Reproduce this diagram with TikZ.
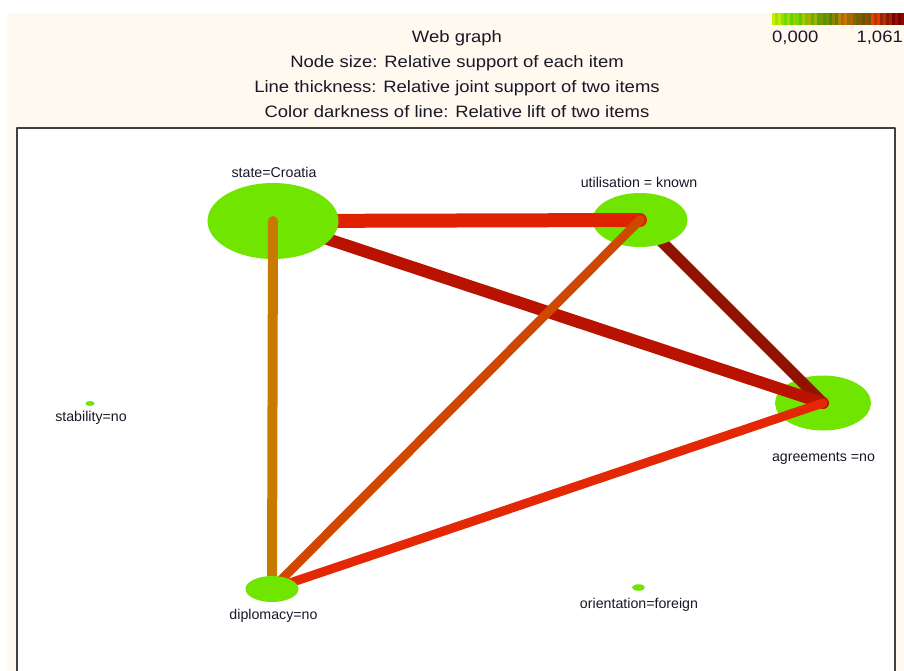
\documentclass[tikz,border=0pt]{standalone}
\usepackage{fontspec}
\setmainfont{Liberation Sans}
\newfontfamily\headfont[FakeStretch=1.12]{Liberation Sans}
\usepackage{tikz}
\usetikzlibrary{shapes.geometric}

\definecolor{cream}{RGB}{255,249,240}
\definecolor{ink}{RGB}{24,24,40}
\definecolor{boxgray}{RGB}{64,64,64}
\definecolor{itemgreen}{RGB}{112,230,0}
\definecolor{cRed}{RGB}{222,34,0}
\definecolor{cDark}{RGB}{186,18,0}
\definecolor{cMaroon}{RGB}{145,18,0}
\definecolor{cOchre}{RGB}{200,122,0}
\definecolor{cRust}{RGB}{208,72,0}
\definecolor{cScarlet}{RGB}{228,40,6}

\begin{document}
\begin{tikzpicture}[line cap=round,line join=round,x=1pt,y=-1pt,
    item/.style={ellipse,fill=itemgreen,inner sep=0pt,outer sep=0pt},
    lbl/.style={anchor=base,text=ink,inner sep=0pt,font=\fontsize{14.2}{17}\selectfont},
    head/.style={anchor=base,text=ink,inner sep=0pt,font=\headfont\fontsize{16.5}{20}\selectfont}]
\useasboundingbox (0,0) rectangle (904,671);
\fill [white] (0,0) rectangle (904,671);
\fill [cream] (7,13) rectangle (904,671);
\foreach \r/\g/\b [count=\k from 0] in {200/240/0,150/230/0,190/235/0,140/225/0,
    110/220/0,170/215/0,100/210/0,160/200/0,120/215/0,90/200/0,
    170/200/0,130/190/0,160/180/0,110/170/0,150/185/0,100/160/0,
    120/150/0,80/150/0,130/140/0,70/140/0,150/130/0,90/130/0,
    190/130/0,170/110/0,200/120/0,150/110/0,180/100/0,130/100/0,
    110/100/0,150/80/0,100/90/0,160/70/0,120/80/0,
    230/70/0,190/50/0,220/60/0,150/40/0,200/40/0,130/30/0,170/30/0,
    120/0/0,160/10/0,110/0/0,150/0/0}
  \fill [fill={rgb,255:red,\r;green,\g;blue,\b}] (772+3*\k,13) rectangle (775+3*\k,25);
\node [head,anchor=base west] (scalelo) at (772,43) {0,000};
\node [head,anchor=base east] (scalehi) at (903,43) {1,061};
\node [head] (title) at (457,43) {Web graph};
\node [head] (sizenote) at (457,67.5) {Node size: Relative support of each item};
\node [head] (thicknote) at (457,92.5) {Line thickness: Relative joint support of two items};
\node [head] (colornote) at (457,118) {Color darkness of line: Relative lift of two items};
\filldraw [fill=white,draw=boxgray,line width=2pt] (17,128) rectangle (895,690);
\coordinate (st) at (273,221);
\coordinate (ut) at (640,220);
\coordinate (ag) at (823,403);
\coordinate (dp) at (272,589);
\node [item,minimum width=96pt,minimum height=55pt] (agree) at (ag) {};
\draw [line width=11pt,cMaroon] (ut) -- (ag);
\node [item,minimum width=95pt,minimum height=54pt] (util) at (ut) {};
\draw [line width=14pt,cRed] (st) -- (ut);
\draw [line width=12pt,cDark] (st) -- (ag);
\node [item,minimum width=131pt,minimum height=76pt] (state) at (st) {};
\draw [line width=10pt,cOchre] (st) -- (dp);
\draw [line width=9pt,cRust] (ut) -- (dp);
\draw [line width=9pt,cScarlet] (dp) -- (ag);
\node [item,minimum width=53pt,minimum height=26pt] (diplo) at (dp) {};
\node [item,minimum width=9pt,minimum height=5pt] (stab) at (90,403.5) {};
\node [item,minimum width=13pt,minimum height=6.5pt] (orient) at (638.5,587.5) {};
\node [lbl] (stateL) at (274,178) {state=Croatia};
\node [lbl] (utilL) at (639,188) {utilisation = known};
\node [lbl] (agreeL) at (823.5,461.5) {agreements =no};
\node [lbl] (stabL) at (91,421.5) {stability=no};
\node [lbl] (diploL) at (273.5,619) {diplomacy=no};
\node [lbl] (orientL) at (639,608.5) {orientation=foreign};
\end{tikzpicture}
\end{document}
